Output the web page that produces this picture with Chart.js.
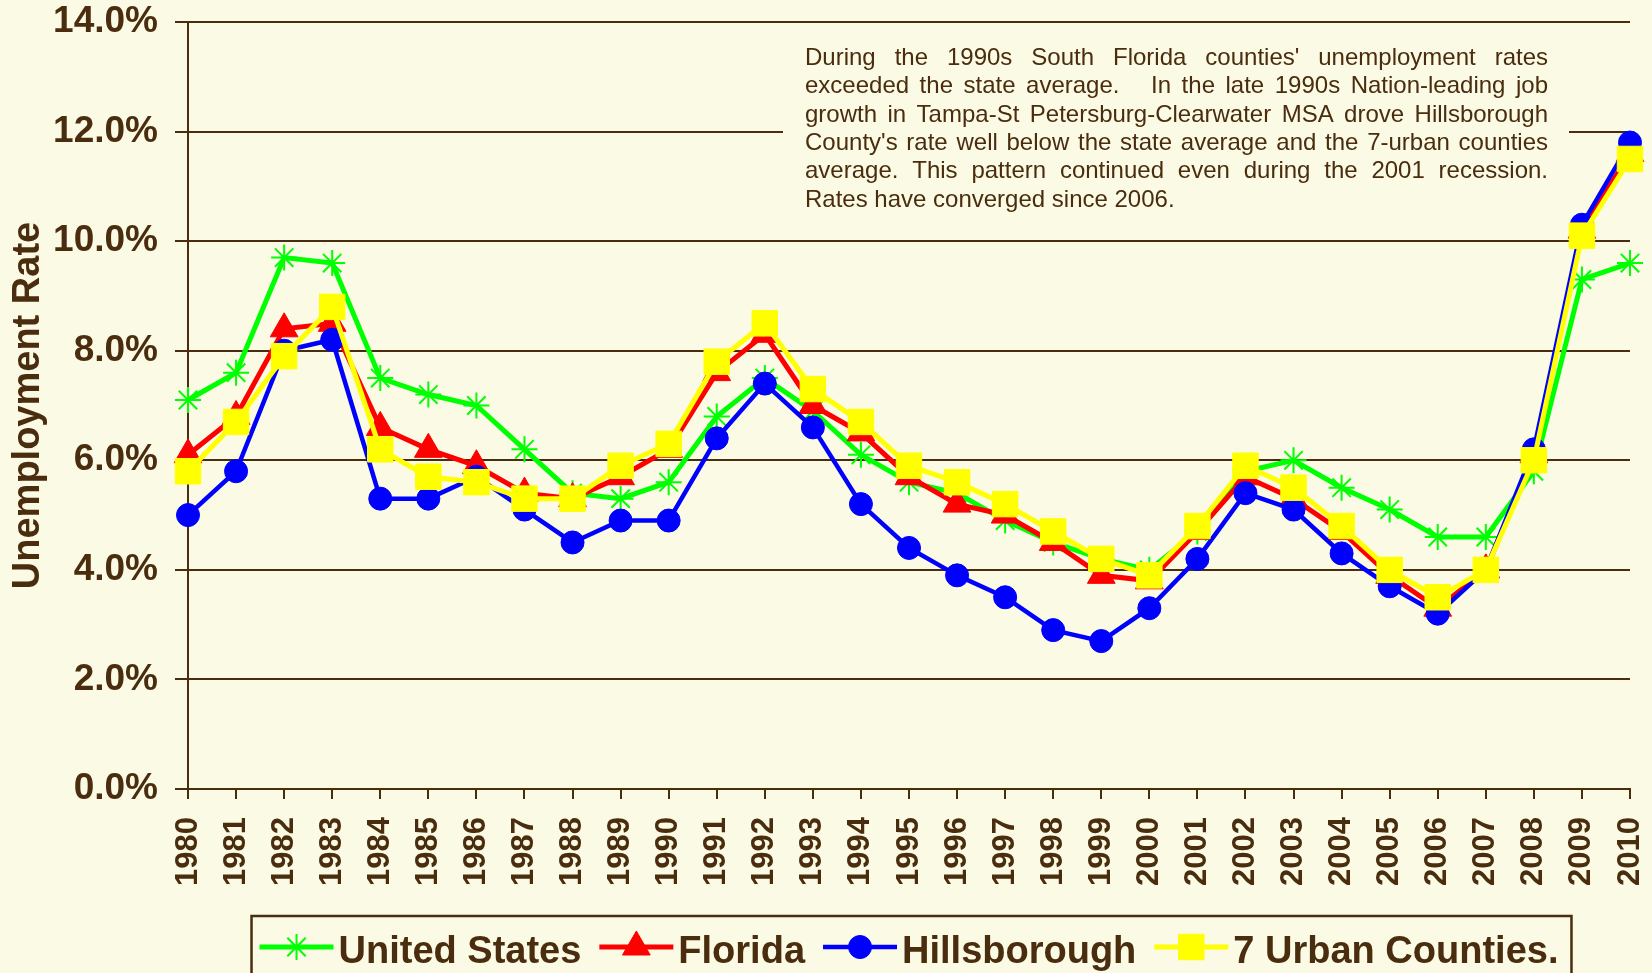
<!DOCTYPE html>
<html>
<head>
<meta charset="utf-8">
<script src="https://cdn.jsdelivr.net/npm/chart.js"></script>
<style>
    html, body { margin: 0; padding: 0; background: #fbfae4; }
    canvas { display: block; }
</style>
</head>
<body>
<canvas id="chart" width="1652" height="973"></canvas>
<script>
const years = ['1980', '1981', '1982', '1983', '1984', '1985', '1986', '1987', '1988', '1989',
    '1990', '1991', '1992', '1993', '1994', '1995', '1996', '1997', '1998', '1999',
    '2000', '2001', '2002', '2003', '2004', '2005', '2006', '2007', '2008', '2009', '2010']

const unitedStates = [7.1, 7.6, 9.7, 9.6, 7.5, 7.2, 7.0, 6.2, 5.4, 5.3,
    5.6, 6.8, 7.5, 6.9, 6.1, 5.6, 5.4, 4.9, 4.5, 4.2,
    4.0, 4.7, 5.8, 6.0, 5.5, 5.1, 4.6, 4.6, 5.8, 9.3, 9.6]
const florida = [6.1, 6.8, 8.4, 8.5, 6.6, 6.2, 5.9, 5.4, 5.3, 5.7,
    6.2, 7.6, 8.3, 7.0, 6.5, 5.7, 5.2, 5.0, 4.5, 3.9,
    3.8, 4.7, 5.7, 5.3, 4.7, 3.9, 3.3, 4.0, 6.1, 10.2, 11.6]
const hillsborough = [5.0, 5.8, 8.0, 8.2, 5.3, 5.3, 5.7, 5.1, 4.5, 4.9,
    4.9, 6.4, 7.4, 6.6, 5.2, 4.4, 3.9, 3.5, 2.9, 2.7,
    3.3, 4.2, 5.4, 5.1, 4.3, 3.7, 3.2, 4.0, 6.2, 10.3, 11.8]
const urbanCounties = [5.8, 6.7, 7.9, 8.8, 6.2, 5.7, 5.6, 5.3, 5.3, 5.9,
    6.3, 7.8, 8.5, 7.3, 6.7, 5.9, 5.6, 5.2, 4.7, 4.2,
    3.9, 4.8, 5.9, 5.5, 4.8, 4.0, 3.5, 4.0, 6.0, 10.1, 11.5]

const noteLines = [
    "During the 1990s South Florida counties' unemployment rates",
    "exceeded the state average.   In the late 1990s Nation-leading job",
    "growth in Tampa-St Petersburg-Clearwater MSA drove Hillsborough",
    "County's rate well below the state average and the 7-urban counties",
    "average. This pattern continued even during the 2001 recession.",
    "Rates have converged since 2006.",
]

const INK = '#4a2c0e'
const PAPER = '#fbfae4'
const FAMILY = '"Liberation Sans", Arial, sans-serif'
Chart.defaults.font.family = FAMILY

const paperPlugin = {
    id: 'paper',
    beforeDraw(chart) {
        const ctx = chart.ctx
        ctx.save()
        ctx.fillStyle = PAPER
        ctx.fillRect(0, 0, chart.width, chart.height)
        ctx.restore()
    }
}

// justified note box, drawn over the grid but under the lines
const notePlugin = {
    id: 'note',
    beforeDatasetsDraw(chart) {
        const ctx = chart.ctx
        ctx.save()
        ctx.fillStyle = PAPER
        ctx.fillRect(783, 34, 786, 190)
        ctx.font = `24px ${FAMILY}`
        ctx.fillStyle = INK
        ctx.textBaseline = 'alphabetic'
        const left = 805, width = 743
        noteLines.forEach((line, i) => {
            const y = 65 + i * 28.3
            if (i === noteLines.length - 1) {
                ctx.fillText(line, left, y)
                return
            }
            const words = line.split(' ')
            const used = words.reduce((sum, w) => sum + ctx.measureText(w).width, 0)
            const gap = (width - used) / (words.length - 1)
            let x = left
            words.forEach(w => {
                ctx.fillText(w, x, y)
                x += ctx.measureText(w).width + gap
            })
        })
        ctx.restore()
    }
}

// boxed legend with a line through each marker
const boxLegendPlugin = {
    id: 'boxLegend',
    afterDraw(chart) {
        const ctx = chart.ctx
        const datasets = chart.data.datasets
        const seg = 74, gapText = 5, gapItem = 18
        ctx.save()
        ctx.font = `bold 38px ${FAMILY}`
        const widths = datasets.map(ds => ctx.measureText(ds.label).width)
        const total = widths.reduce((a, b) => a + b, 0) + datasets.length * (seg + gapText) + (datasets.length - 1) * gapItem
        const area = chart.chartArea
        let x = (area.left + area.right) / 2 - total / 2
        const midY = 947

        ctx.strokeStyle = INK
        ctx.lineWidth = 2.5
        ctx.strokeRect(x - 8, 916, total + 21, 90)

        datasets.forEach((ds, i) => {
            ctx.strokeStyle = ds.borderColor
            ctx.lineWidth = ds.borderWidth
            ctx.beginPath()
            ctx.moveTo(x, midY)
            ctx.lineTo(x + seg, midY)
            ctx.stroke()
            if (Chart.helpers && Chart.helpers.drawPoint) {
                ctx.fillStyle = ds.pointBackgroundColor
                ctx.strokeStyle = ds.pointBorderColor
                ctx.lineWidth = ds.pointBorderWidth
                Chart.helpers.drawPoint(ctx, {
                    pointStyle: ds.pointStyle, radius: ds.pointRadius, rotation: 0, borderWidth: ds.pointBorderWidth
                }, x + seg / 2, midY)
            }
            ctx.fillStyle = INK
            ctx.textBaseline = 'alphabetic'
            ctx.fillText(ds.label, x + seg + gapText, 963)
            x += seg + gapText + widths[i] + gapItem
        })
        ctx.restore()
    }
}

const series = (label, data, color, pointStyle, pointRadius, order, extra = {}) => ({
    label, data, order,
    borderColor: color,
    backgroundColor: color,
    borderWidth: 5,
    tension: 0,
    fill: false,
    clip: false,
    pointStyle,
    pointRadius,
    pointHoverRadius: pointRadius,
    pointBackgroundColor: color,
    pointBorderColor: color,
    pointBorderWidth: 1,
    ...extra,
})

new Chart(document.getElementById('chart'), {
    type: 'line',
    data: {
        labels: years,
        datasets: [
            series('United States', unitedStates, '#00ff00', 'star', 13, 4, { pointBorderWidth: 2 }),
            series('Florida', florida, '#ff0000', 'triangle', 16, 3),
            series('Hillsborough', hillsborough, '#0000ff', 'circle', 11.5, 2, { borderWidth: 4.5 }),
            series('7 Urban Counties.', urbanCounties, '#ffff00', 'rect', 18, 1),
        ],
    },
    options: {
        responsive: false,
        devicePixelRatio: 1,
        animation: false,
        events: [],
        layout: { padding: { top: 22, right: 22, bottom: 0, left: 0 } },
        plugins: {
            legend: { display: false },
            tooltip: { enabled: false },
        },
        scales: {
            x: {
                type: 'category',
                offset: false,
                grid: { drawOnChartArea: false, drawTicks: true, tickLength: 10, color: INK, lineWidth: 2 },
                border: { display: true, color: INK, width: 2 },
                ticks: {
                    color: INK,
                    font: { size: 31, weight: 'bold' },
                    minRotation: 90,
                    maxRotation: 90,
                    autoSkip: false,
                    padding: 18,
                },
                afterFit(scale) {
                    scale.height = 184
                    scale.paddingLeft = 0
                    scale.paddingRight = 0
                },
            },
            y: {
                min: 0,
                max: 14,
                grid: { color: INK, lineWidth: 2, tickLength: 13 },
                border: { display: true, color: INK, width: 2 },
                ticks: {
                    stepSize: 2,
                    color: INK,
                    font: { size: 37, weight: 'bold' },
                    padding: 17,
                    callback: v => v.toFixed(1) + '%',
                },
                title: {
                    display: true,
                    text: 'Unemployment Rate',
                    color: INK,
                    font: { size: 38, weight: 'bold' },
                    padding: { top: 6, bottom: 0 },
                },
                afterFit(scale) {
                    scale.width = 188
                    scale.paddingTop = 0
                    scale.paddingBottom = 0
                },
            },
        },
    },
    plugins: [paperPlugin, notePlugin, boxLegendPlugin],
})
</script>
</body>
</html>
